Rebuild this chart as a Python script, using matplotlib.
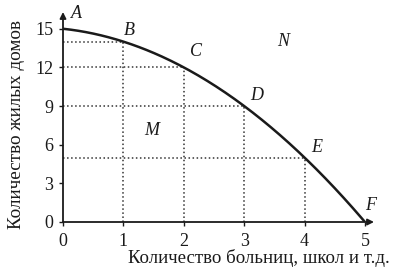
import matplotlib
matplotlib.use("Agg")
import matplotlib.pyplot as plt
import numpy as np
import numpy.polynomial.polynomial as poly

# production possibilities
hospitals = [0, 1, 2, 3, 4, 5]
houses = [15, 14, 12, 9, 5, 0]
point_names = ["A", "B", "C", "D", "E", "F"]
x_ticks = [0, 1, 2, 3, 4, 5]
y_ticks = [0, 3, 6, 9, 12, 15]

plt.rcParams['font.family'] = ['Liberation Serif', 'DejaVu Serif']
ink = "#1a1a1a"

fig = plt.figure(figsize=(3.98, 2.72), dpi=100)
ax = fig.add_axes([63/398, 50/272, 311/398, 210/272])
ax.set_xlim(0, 5.15)
ax.set_ylim(0, 16.3)

# guide lines from each point to the axes
for x, y in zip(hospitals[1:-1], houses[1:-1]):
    ax.plot([0, x], [y, y], color="#333333", linestyle=":", linewidth=1.1)
    ax.plot([x, x], [0, y], color="#333333", linestyle=":", linewidth=1.1)

# smooth curve through the points
coefs = poly.polyfit(hospitals, houses, 2)
ffit = poly.Polynomial(coefs)
xs = np.linspace(0, 5, 200)
ax.plot(xs, ffit(xs), color=ink, linewidth=1.8, solid_capstyle="butt")

# axes with arrows
for s in ax.spines.values():
    s.set_visible(False)
ax.annotate("", xy=(0, 16.3), xytext=(0, 0), annotation_clip=False,
            arrowprops=dict(arrowstyle="-|>", color=ink, lw=1.3,
                            mutation_scale=9, shrinkA=0, shrinkB=0))
ax.annotate("", xy=(5.15, 0), xytext=(0, 0), annotation_clip=False,
            arrowprops=dict(arrowstyle="-|>", color=ink, lw=1.3,
                            mutation_scale=9, shrinkA=0, shrinkB=0))

ax.set_xticks(x_ticks)
ax.set_yticks(y_ticks)
ax.tick_params(axis="both", labelsize=13, color=ink, width=1,
               length=3, direction="out", labelcolor=ink)
ax.tick_params(axis="x", pad=5)
ax.tick_params(axis="y", pad=4)

fig.text(390/398, 1 - 258/272, "Количество больниц, школ и т.д.",
         fontsize=13.6, color=ink, ha="right", va="center")
fig.text(17/398, 1 - 125/272, "Количество жилых домов", fontsize=13.8,
         color=ink, rotation=90, ha="center", va="center")

# point labels
offsets = [(0.23, 1.2), (0.1, 0.9), (0.2, 1.2), (0.2, 0.8), (0.2, 0.8), (0.1, 1.3)]
for x, y, name, (dx, dy) in zip(hospitals, houses, point_names, offsets):
    ax.text(x + dx, y + dy, name, fontsize=13, style="italic",
            color=ink, ha="center", va="center")

ax.text(3.64, 14.0, "N", fontsize=13, style="italic", color=ink,
        ha="center", va="center")
ax.text(1.47, 7.1, "M", fontsize=13, style="italic", color=ink,
        ha="center", va="center")

fig.savefig("out.png", dpi=100)
